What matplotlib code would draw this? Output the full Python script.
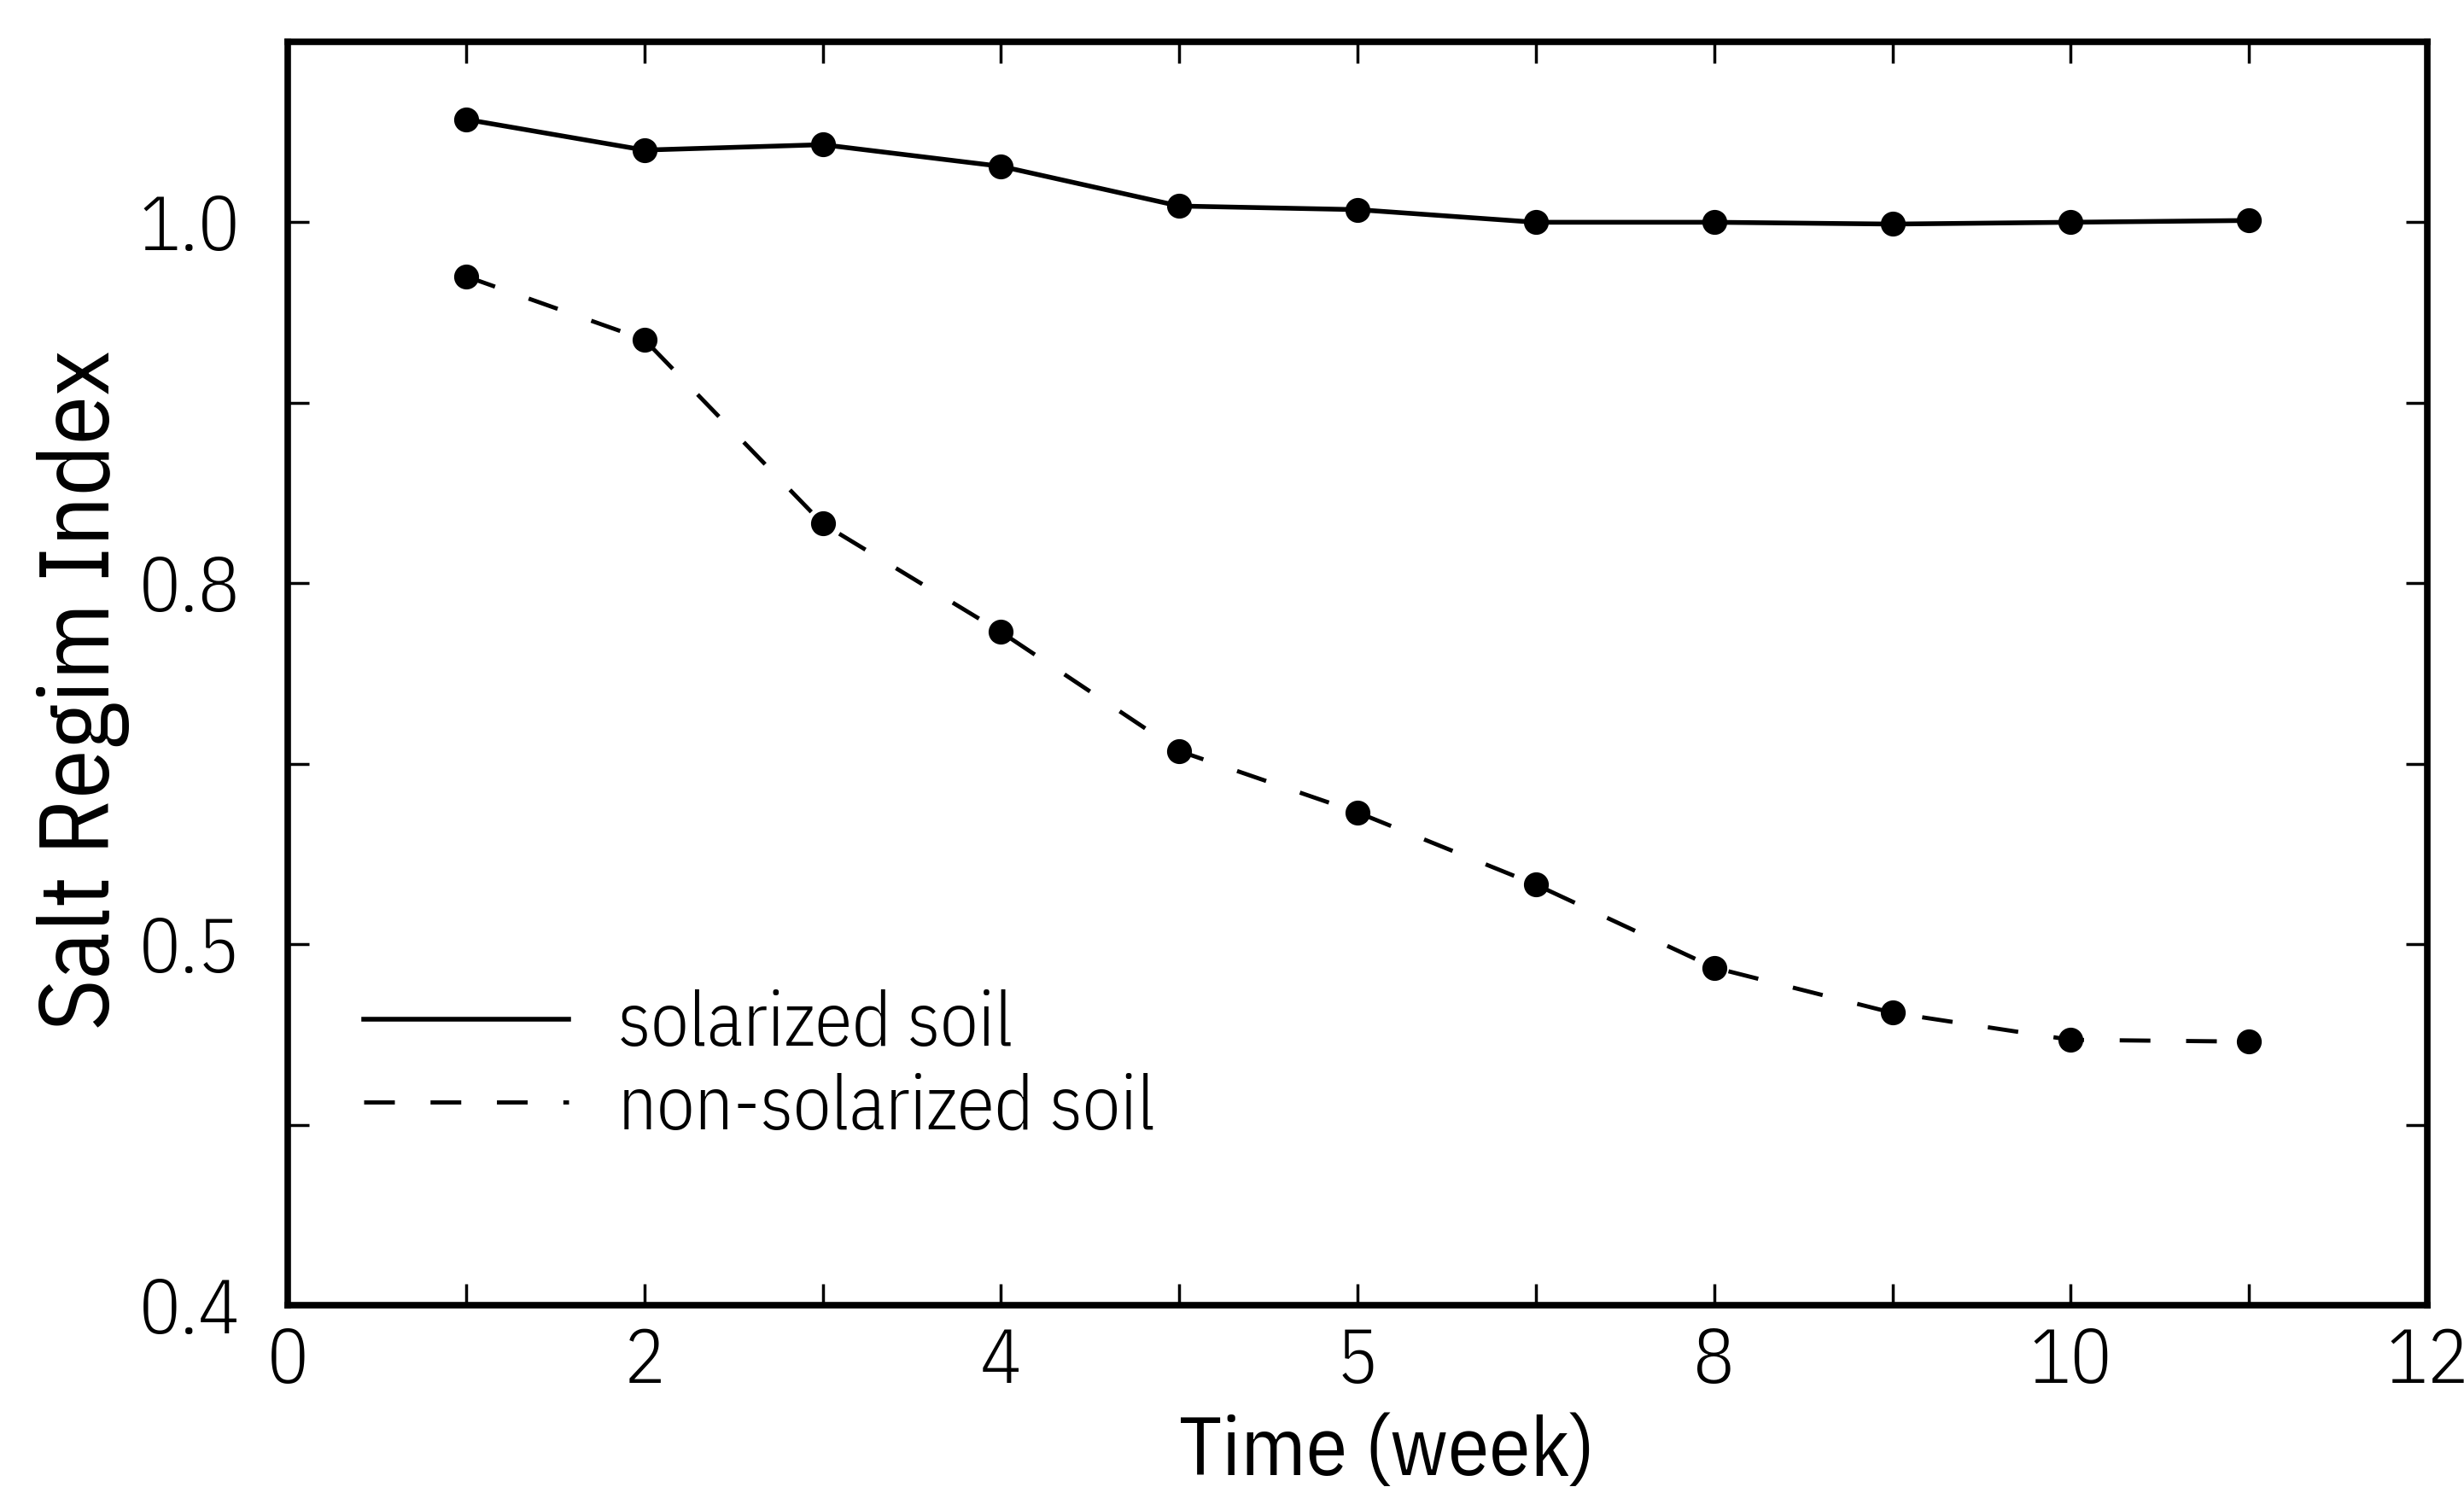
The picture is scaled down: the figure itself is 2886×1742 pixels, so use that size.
import matplotlib
matplotlib.use("Agg")
import matplotlib.pyplot as plt

weeks = [1, 2, 3, 4, 5, 6, 7, 8, 9, 10, 11]
solarized = [1.057, 1.040, 1.043, 1.031, 1.009, 1.007, 1.000, 1.000, 0.999, 1.000, 1.001]
non_solarized = [0.970, 0.935, 0.833, 0.773, 0.707, 0.673, 0.633, 0.587, 0.562, 0.547, 0.546]

x_ticks = [0, 1, 2, 3, 4, 5, 6, 7, 8, 9, 10, 11, 12]
x_tick_labels = ["0", "", "2", "", "4", "", "5", "", "8", "", "10", "", "12"]
y_ticks = [0.4, 0.5, 0.6, 0.7, 0.8, 0.9, 1.0, 1.1]
y_tick_labels = ["0.4", "", "0.5", "", "0.8", "", "1.0", ""]

plt.rcParams["font.family"] = ["IBM Plex Sans Condensed", "DejaVu Sans"]
plt.rcParams["font.weight"] = 300

fig = plt.figure(figsize=(28.86, 17.42), dpi=100)
ax = fig.add_axes([0.1168, 0.1223, 0.8683, 0.8496])

ax.plot(weeks, solarized, color="black", lw=4.0, marker="o", ms=20,
        solid_joinstyle="round", label="solarized soil")
ax.plot(weeks, non_solarized, color="black", lw=3.5, marker="o", ms=20,
        dashes=(7.4, 8.6), label="non-solarized soil")

ax.set_xlim(0, 12)
ax.set_ylim(0.4, 1.1)
ax.set_xticks(x_ticks)
ax.set_xticklabels(x_tick_labels)
ax.set_yticks(y_ticks)
ax.set_yticklabels(y_tick_labels)

for s in ax.spines.values():
    s.set_linewidth(5.5)

ax.tick_params(axis="both", which="major", direction="in", length=18, width=2.5,
               top=True, right=True, labelsize=65)
ax.tick_params(axis="x", pad=18)
ax.tick_params(axis="y", pad=40)

ax.set_xlabel("Time (week)", fontsize=70)
ax.xaxis.label.set_va("baseline")
ax.xaxis.set_label_coords(0.5136, -0.1345)
ax.set_ylabel("Salt Regim Index", fontsize=83)
ax.yaxis.set_label_coords(-0.074, 0.487)

leg = ax.legend(loc="upper left", bbox_to_anchor=(0.0355, 0.25), frameon=False,
                fontsize=64, handlelength=2.7, handletextpad=0.65, labelspacing=0.15,
                borderpad=0, borderaxespad=0, markerscale=0)
for h in leg.get_lines():
    h.set_marker("")

fig.savefig("out.png", dpi=100, facecolor="white")
